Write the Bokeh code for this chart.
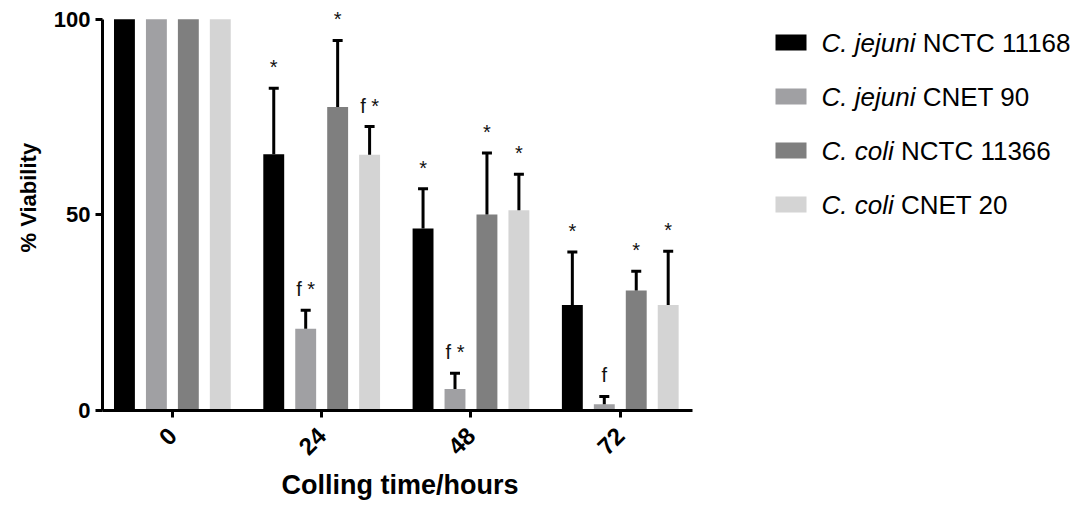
import math
from bokeh.plotting import figure
from bokeh.models import Range1d, FixedTicker, ColumnDataSource, Whisker, TeeHead, LabelSet, Title
from bokeh.embed import file_html
from bokeh.resources import INLINE
from bokeh.core.properties import value

# ---------------- data ----------------
times = ["0", "24", "48", "72"]
species = ["C. jejuni", "C. jejuni", "C. coli", "C. coli"]
strain_ids = ["NCTC 11168", "CNET 90", "NCTC 11366", "CNET 20"]

jejuni_11168 = [100, 65.5, 46.5, 27.0]
jejuni_11168_err = [0, 16.9, 10.2, 13.5]
jejuni_cnet90 = [100, 20.9, 5.5, 1.6]
jejuni_cnet90_err = [0, 4.7, 4.0, 2.0]
coli_11366 = [100, 77.6, 50.1, 30.7]
coli_11366_err = [0, 17.0, 15.7, 4.9]
coli_cnet20 = [100, 65.4, 51.2, 27.0]
coli_cnet20_err = [0, 7.2, 9.2, 13.7]

jejuni_11168_sig = ["", "*", "*", "*"]
jejuni_cnet90_sig = ["", "f *", "f *", "f"]
coli_11366_sig = ["", "*", "*", "*"]
coli_cnet20_sig = ["", "f *", "*", "*"]

x_title = "Colling time/hours"
y_title = "% Viability"

series_values = [jejuni_11168, jejuni_cnet90, coli_11366, coli_cnet20]
series_errors = [jejuni_11168_err, jejuni_cnet90_err, coli_11366_err, coli_cnet20_err]
series_sig = [jejuni_11168_sig, jejuni_cnet90_sig, coli_11366_sig, coli_cnet20_sig]
colors = ["#000000", "#a0a0a3", "#7f7f7f", "#d4d4d4"]
offsets = [-0.321, -0.107, 0.107, 0.321]
FONT = "Liberation Sans"

# ---------------- layout geometry ----------------
W, H = 1073, 505
BL, BT, BB, BR = 102, 11, 95, 0
X_LO, X_AX_HI = -0.468, 3.484
PX_PER_CAT = 149.3
X_HI = X_LO + (W - BL - BR) / PX_PER_CAT

p = figure(width=W, height=H,
           x_range=Range1d(X_LO, X_HI), y_range=Range1d(0, 102),
           output_backend="svg", toolbar_location=None,
           min_border_left=BL, min_border_right=BR,
           min_border_top=BT, min_border_bottom=BB)
p.outline_line_color = None
p.xgrid.visible = False
p.ygrid.visible = False
# pixel-like ranges for the legend area (canvas coordinates)
p.extra_x_ranges = {"px": Range1d(BL, W - BR)}
p.extra_y_ranges = {"px": Range1d(H - BB, BT)}

for vals, errs, sigs, col, off in zip(series_values, series_errors, series_sig, colors, offsets):
    xs = [i + off for i in range(len(times))]
    p.vbar(x=xs, top=vals, bottom=0, width=0.14, fill_color=col, line_color=None)
    ex = [x for x, e in zip(xs, errs) if e > 0]
    lo = [v for v, e in zip(vals, errs) if e > 0]
    up = [v + e for v, e in zip(vals, errs) if e > 0]
    src = ColumnDataSource(dict(x=ex, lower=lo, upper=up))
    w = Whisker(base="x", lower="lower", upper="upper", source=src,
                upper_head=TeeHead(size=10, line_width=3, line_color="black"),
                lower_head=None, line_width=3, line_color="black", level="glyph")
    p.add_layout(w)
    tx = [x for x, s in zip(xs, sigs) if s]
    ty = [v + e for v, e, s in zip(vals, errs, sigs) if s]
    tt = [s for s in sigs if s]
    lsrc = ColumnDataSource(dict(x=tx, y=ty, text=tt))
    ls = LabelSet(x="x", y="y", text="text", source=lsrc, y_offset=14,
                  text_align="center", text_baseline="alphabetic",
                  text_font=value(FONT), text_font_size=value("20px"),
                  text_color="#111111")
    p.add_layout(ls)

yax = p.yaxis[0]
yax.ticker = FixedTicker(ticks=[0, 50, 100])
yax.bounds = (0, 100)
xax = p.xaxis[0]
xax.ticker = FixedTicker(ticks=list(range(len(times))))
xax.bounds = (X_LO, X_AX_HI)
xax.major_label_overrides = {i: t for i, t in enumerate(times)}
xax.major_label_orientation = math.pi / 4

for ax in (xax, yax):
    ax.axis_line_width = 3
    ax.axis_line_color = "black"
    ax.major_tick_line_width = 3
    ax.major_tick_line_color = "black"
    ax.major_tick_in = 0
    ax.major_tick_out = 7
    ax.minor_tick_out = 0
    ax.minor_tick_in = 0
    ax.major_label_text_font = FONT
    ax.major_label_text_font_style = "bold"
    ax.major_label_text_color = "black"
yax.major_label_text_font_size = "22px"
yax.major_label_standoff = 5
xax.major_label_text_font_size = "24px"
xax.major_label_standoff = 14

# axis titles as Title objects so they can be offset along the axis
ytitle = Title(text=y_title, align="left", offset=158, standoff=20,
               text_font=FONT, text_font_style="bold", text_font_size="22px",
               text_color="black")
p.add_layout(ytitle, "left")
xtitle = Title(text=x_title, align="left", offset=179, standoff=5,
               text_font=FONT, text_font_style="bold", text_font_size="27px",
               text_color="black")
p.add_layout(xtitle, "below")

# ---------------- legend (mixed italic / regular text) ----------------
ARIAL_W = {"C": 722, ".": 278, " ": 278, "j": 222, "e": 556, "u": 556, "n": 556,
           "i": 222, "c": 500, "o": 556, "l": 222}
LEG_SIZE = 26


def text_width(s, size):
    return sum(ARIAL_W.get(ch, 556) for ch in s) * size / 1000.0


rows_y = [42, 96, 150, 204]
text_x0 = 821
p.rect(x=[790.5] * 4, y=rows_y, width=31, height=16, fill_color=colors, line_color=None,
       x_range_name="px", y_range_name="px")
p.text(x=[text_x0] * 4, y=rows_y, text=species, text_font=value(FONT),
       text_font_style="italic", text_font_size=value(f"{LEG_SIZE}px"),
       text_baseline="middle", text_align="left", text_color="black",
       x_range_name="px", y_range_name="px")
x2 = [text_x0 + text_width(s + " ", LEG_SIZE) for s in species]
p.text(x=x2, y=rows_y, text=strain_ids, text_font=value(FONT),
       text_font_size=value(f"{LEG_SIZE}px"),
       text_baseline="middle", text_align="left", text_color="black",
       x_range_name="px", y_range_name="px")

open("out.html", "w").write(file_html(p, INLINE))
